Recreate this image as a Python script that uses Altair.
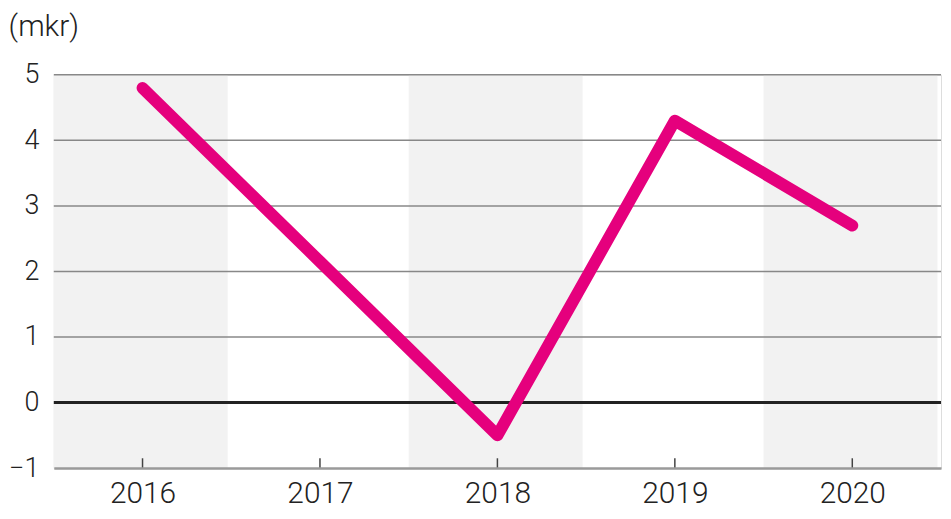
import altair as alt
import pandas as pd

# ---- data ----
years = [2016, 2017, 2018, 2019, 2020]
values = [4.8, 2.15, -0.5, 4.3, 2.7]
shaded_years = [2016, 2018, 2020]
grid_values = [1, 2, 3, 4, 5]
y_ticks = [-1, 0, 1, 2, 3, 4, 5]
unit_label = "(mkr)"

FONT = "Roboto"
W, H = 891, 395

line_df = pd.DataFrame({"year": years, "value": values})
band_df = pd.DataFrame({"start": [y - 0.5 for y in shaded_years],
                        "end": [y + 0.48 for y in shaded_years],
                        "lo": [-1] * len(shaded_years),
                        "hi": [5] * len(shaded_years)})
grid_df = pd.DataFrame({"v": grid_values})
zero_df = pd.DataFrame({"v": [0]})
tick_df = pd.DataFrame({"year": years, "lo": [-1] * len(years), "hi": [-0.85] * len(years)})

xscale = alt.Scale(domain=[2015.5, 2020.5], nice=False, zero=False)
yscale = alt.Scale(domain=[-1, 5], nice=False, zero=False)

x_axis = alt.Axis(values=years, format="d", title=None, grid=False, ticks=False,
                  domain=True, domainColor="#9a9a9a", domainWidth=2.5,
                  labelFont=FONT, labelFontSize=30, labelFontWeight=300,
                  labelColor="#222222", labelPadding=11, zindex=1)
y_axis = alt.Axis(values=y_ticks, format="d", title=None, grid=False, ticks=False, domain=False,
                  labelFont=FONT, labelFontSize=27, labelFontWeight=300,
                  labelColor="#222222", labelPadding=15)

bands = alt.Chart(band_df).mark_rect(color="#f2f2f2").encode(
    x=alt.X("start:Q", scale=xscale, axis=x_axis),
    x2="end:Q",
    y=alt.Y("lo:Q", scale=yscale, axis=y_axis),
    y2="hi:Q",
)

grid = alt.Chart(grid_df).mark_rule(color="#888888", strokeWidth=1.5).encode(
    y=alt.Y("v:Q", scale=yscale),
    x=alt.value(0), x2=alt.value(W),
)

zero = alt.Chart(zero_df).mark_rule(color="#222222", strokeWidth=3).encode(
    y=alt.Y("v:Q", scale=yscale),
    x=alt.value(0), x2=alt.value(W),
)

ticks = alt.Chart(tick_df).mark_rule(color="#444444", strokeWidth=1.5).encode(
    x=alt.X("year:Q", scale=xscale),
    y=alt.Y("lo:Q", scale=yscale),
    y2="hi:Q",
)

line = alt.Chart(line_df).mark_line(color="#E5007D", strokeWidth=12,
                                    strokeCap="round", strokeJoin="round").encode(
    x=alt.X("year:Q", scale=xscale),
    y=alt.Y("value:Q", scale=yscale),
)

chart = alt.layer(bands, grid, zero, ticks, line).properties(
    width=W, height=H,
    title=alt.TitleParams(text=unit_label, anchor="start", offset=19,
                          font=FONT, fontSize=30, fontWeight=300, color="#222222"),
    padding={"left": 0, "top": 3, "right": 0, "bottom": 0},
).configure_view(stroke=None).configure(background="white")

chart.save("out.html", embed_options={"renderer": "svg", "actions": False})
